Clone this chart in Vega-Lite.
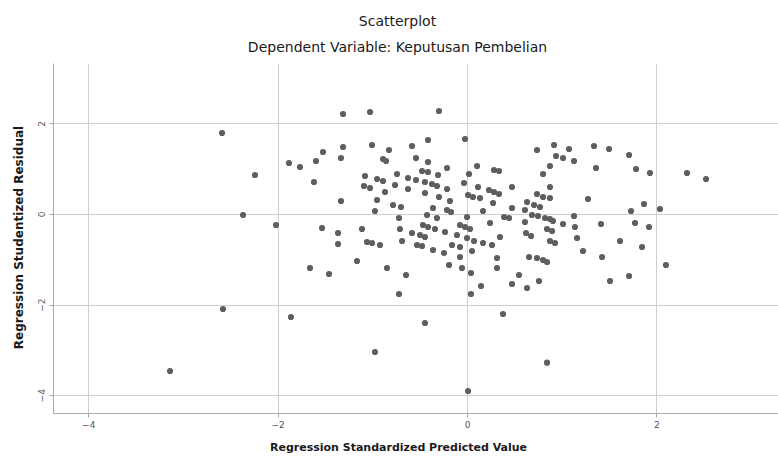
{
  "$schema": "https://vega.github.io/schema/vega-lite/v6.json",
  "autosize": "none",
  "width": 725,
  "height": 350,
  "padding": {"left": 53, "top": 63, "right": 0, "bottom": 43},
  "background": "white",
  "title": {
    "text": "Scatterplot",
    "subtitle": "Dependent Variable: Keputusan Pembelian",
    "anchor": "middle",
    "frame": "group",
    "dx": -18,
    "offset": 8,
    "font": "DejaVu Sans",
    "fontSize": 14,
    "fontWeight": "normal",
    "color": "#1a1a1a",
    "subtitleFont": "DejaVu Sans",
    "subtitleFontSize": 14,
    "subtitleColor": "#1a1a1a",
    "subtitlePadding": 12
  },
  "config": {
    "view": {"stroke": null},
    "axis": {
      "domainColor": "#a8a8a8",
      "gridColor": "#cfcfcf",
      "gridWidth": 1,
      "tickColor": "#a8a8a8",
      "tickSize": 4,
      "labelFont": "DejaVu Sans",
      "labelFontSize": 9,
      "labelColor": "#555555",
      "labelPadding": 3,
      "titleFont": "DejaVu Sans",
      "titleFontSize": 11,
      "titleFontWeight": "bold",
      "titleColor": "#1a1a1a"
    }
  },
  "data": {
    "values": [
      {"x": -2.587, "y": 1.788}, {"x": -2.239, "y": 0.861}, {"x": -2.365, "y": -0.022}, {"x": -2.017, "y": -0.243},
      {"x": -2.577, "y": -2.097}, {"x": -3.136, "y": -3.466}, {"x": -1.859, "y": -2.274}, {"x": -1.88, "y": 1.126},
      {"x": -1.764, "y": 1.038}, {"x": -1.595, "y": 1.17}, {"x": -1.521, "y": 1.369}, {"x": -1.616, "y": 0.706},
      {"x": -1.658, "y": -1.192}, {"x": -1.457, "y": -1.325}, {"x": -1.531, "y": -0.309}, {"x": -1.362, "y": -0.419},
      {"x": -1.362, "y": -0.662}, {"x": -1.309, "y": 2.208}, {"x": -1.309, "y": 1.479}, {"x": -1.331, "y": 1.236},
      {"x": -1.331, "y": 0.287}, {"x": -1.162, "y": -1.038}, {"x": -1.109, "y": -0.331}, {"x": -1.056, "y": -0.618},
      {"x": -1.003, "y": -0.64}, {"x": -0.919, "y": -0.684}, {"x": -1.024, "y": 2.252}, {"x": -1.003, "y": 1.523},
      {"x": -1.077, "y": 0.839}, {"x": -1.088, "y": 0.618}, {"x": -1.024, "y": 0.574}, {"x": -0.95, "y": 0.773},
      {"x": -0.887, "y": 0.728}, {"x": -0.95, "y": 0.309}, {"x": -0.972, "y": 0.066}, {"x": -0.866, "y": 0.486},
      {"x": -0.824, "y": 1.413}, {"x": -0.887, "y": 1.214}, {"x": -0.855, "y": 1.17}, {"x": -0.845, "y": -1.192},
      {"x": -0.972, "y": -3.046}, {"x": -0.781, "y": 0.199}, {"x": -0.697, "y": 0.155}, {"x": -0.76, "y": 0.64},
      {"x": -0.739, "y": 0.883}, {"x": -0.718, "y": -0.088}, {"x": -0.708, "y": -0.331}, {"x": -0.686, "y": -0.596},
      {"x": -0.644, "y": -1.347}, {"x": -0.718, "y": -1.766}, {"x": -0.623, "y": 0.795}, {"x": -0.623, "y": 0.552},
      {"x": -0.581, "y": 1.501}, {"x": -0.539, "y": 1.236}, {"x": -0.539, "y": 0.751}, {"x": -0.581, "y": -0.419},
      {"x": -0.496, "y": -0.464}, {"x": -0.444, "y": -0.508}, {"x": -0.528, "y": -0.684}, {"x": -0.475, "y": -0.706},
      {"x": -0.465, "y": -0.243}, {"x": -0.412, "y": -0.287}, {"x": -0.444, "y": 0.706}, {"x": -0.37, "y": 0.662},
      {"x": -0.317, "y": 0.618}, {"x": -0.444, "y": 0.464}, {"x": -0.422, "y": -0.022}, {"x": -0.317, "y": -0.088},
      {"x": -0.359, "y": 0.132}, {"x": -0.412, "y": 1.634}, {"x": -0.412, "y": 1.148}, {"x": -0.475, "y": 0.949},
      {"x": -0.412, "y": 0.927}, {"x": -0.296, "y": 2.274}, {"x": -0.306, "y": 0.861}, {"x": -0.296, "y": 0.375},
      {"x": -0.338, "y": -0.331}, {"x": -0.232, "y": -0.397}, {"x": -0.359, "y": -0.795}, {"x": -0.243, "y": -0.861},
      {"x": -0.211, "y": 1.015}, {"x": -0.211, "y": 0.552}, {"x": -0.18, "y": 0.287}, {"x": -0.211, "y": 0.088},
      {"x": -0.169, "y": 0.044}, {"x": -0.19, "y": -1.126}, {"x": -0.444, "y": -2.406}, {"x": -0.106, "y": -0.464},
      {"x": -0.158, "y": -0.684}, {"x": -0.074, "y": -0.728}, {"x": -0.074, "y": -0.949}, {"x": -0.053, "y": -1.192},
      {"x": -0.074, "y": -0.243}, {"x": -0.021, "y": -0.287}, {"x": 0.032, "y": -0.331}, {"x": 0.0, "y": -0.066},
      {"x": 0.0, "y": -0.53}, {"x": 0.074, "y": -0.596}, {"x": 0.053, "y": -0.817}, {"x": 0.042, "y": -1.302},
      {"x": 0.148, "y": -1.589}, {"x": 0.042, "y": -1.766}, {"x": 0.011, "y": -3.907}, {"x": -0.021, "y": 1.656},
      {"x": 0.021, "y": 0.883}, {"x": -0.032, "y": 0.684}, {"x": 0.106, "y": 1.06}, {"x": 0.116, "y": 0.596},
      {"x": 0.011, "y": 0.419}, {"x": 0.063, "y": 0.375}, {"x": 0.137, "y": 0.353}, {"x": 0.169, "y": 0.066},
      {"x": 0.243, "y": -0.199}, {"x": 0.169, "y": -0.64}, {"x": 0.264, "y": -0.684}, {"x": 0.232, "y": 0.53},
      {"x": 0.285, "y": 0.486}, {"x": 0.338, "y": 0.442}, {"x": 0.285, "y": 0.971}, {"x": 0.338, "y": 0.949},
      {"x": 0.275, "y": 0.243}, {"x": 0.391, "y": -0.066}, {"x": 0.444, "y": -0.088}, {"x": 0.348, "y": -0.508},
      {"x": 0.317, "y": -0.971}, {"x": 0.317, "y": -1.192}, {"x": 0.38, "y": -2.208}, {"x": 0.475, "y": 0.132},
      {"x": 0.475, "y": 0.596}, {"x": 0.549, "y": -1.347}, {"x": 0.475, "y": -1.545}, {"x": 0.634, "y": -1.634},
      {"x": 0.76, "y": -1.479}, {"x": 0.612, "y": 0.088}, {"x": 0.686, "y": -0.022}, {"x": 0.75, "y": -0.044},
      {"x": 0.824, "y": -0.088}, {"x": 0.876, "y": -0.11}, {"x": 0.908, "y": -0.155}, {"x": 0.612, "y": -0.177},
      {"x": 0.623, "y": -0.419}, {"x": 0.676, "y": -0.486}, {"x": 0.845, "y": -0.331}, {"x": 0.898, "y": -0.375},
      {"x": 0.876, "y": -0.596}, {"x": 0.929, "y": -0.64}, {"x": 1.014, "y": -0.221}, {"x": 1.13, "y": -0.044},
      {"x": 1.14, "y": -0.287}, {"x": 1.162, "y": -0.53}, {"x": 0.655, "y": -0.949}, {"x": 0.739, "y": -0.971},
      {"x": 0.803, "y": -1.015}, {"x": 0.845, "y": -1.06}, {"x": 0.708, "y": 0.199}, {"x": 0.771, "y": 0.155},
      {"x": 0.634, "y": 0.265}, {"x": 0.739, "y": 0.442}, {"x": 0.803, "y": 0.375}, {"x": 0.876, "y": 0.353},
      {"x": 0.876, "y": 0.596}, {"x": 0.803, "y": 0.883}, {"x": 0.876, "y": 1.06}, {"x": 0.739, "y": 1.413},
      {"x": 0.919, "y": 1.523}, {"x": 1.077, "y": 1.435}, {"x": 0.94, "y": 1.28}, {"x": 1.014, "y": 1.236},
      {"x": 1.13, "y": 1.17}, {"x": 1.341, "y": 1.501}, {"x": 1.5, "y": 1.435}, {"x": 1.711, "y": 1.302},
      {"x": 1.362, "y": 1.015}, {"x": 1.785, "y": 0.993}, {"x": 1.932, "y": 0.905}, {"x": 2.323, "y": 0.905},
      {"x": 2.524, "y": 0.773}, {"x": 1.278, "y": 0.331}, {"x": 1.869, "y": 0.221}, {"x": 1.732, "y": 0.066},
      {"x": 2.038, "y": 0.11}, {"x": 1.415, "y": -0.221}, {"x": 1.774, "y": -0.199}, {"x": 1.922, "y": -0.287},
      {"x": 1.616, "y": -0.596}, {"x": 1.848, "y": -0.728}, {"x": 1.225, "y": -0.817}, {"x": 1.426, "y": -0.949},
      {"x": 2.101, "y": -1.126}, {"x": 1.51, "y": -1.479}, {"x": 1.711, "y": -1.369}, {"x": 0.845, "y": -3.282}
    ]
  },
  "mark": {"type": "point", "filled": true, "shape": "circle", "size": 38, "color": "#5e5e5e", "opacity": 1},
  "encoding": {
    "x": {
      "field": "x",
      "type": "quantitative",
      "scale": {"domain": [-4.372, 3.284], "nice": false, "zero": false},
      "axis": {
        "title": "Regression Standardized Predicted Value",
        "values": [-4, -2, 0, 2],
        "format": "d",
        "titleX": 345,
        "titleY": 34,
        "titleBaseline": "middle",
        "titleAlign": "center"
      }
    },
    "y": {
      "field": "y",
      "type": "quantitative",
      "scale": {"domain": [-4.393, 3.333], "nice": false, "zero": false},
      "axis": {
        "title": "Regression Studentized Residual",
        "titleFontSize": 12,
        "values": [-4, -2, 0, 2],
        "format": "d",
        "labelAngle": -90,
        "labelAlign": "center",
        "labelBaseline": "bottom",
        "titleX": -35,
        "titleY": 174,
        "titleAngle": -90,
        "titleBaseline": "middle",
        "titleAlign": "center"
      }
    }
  }
}
